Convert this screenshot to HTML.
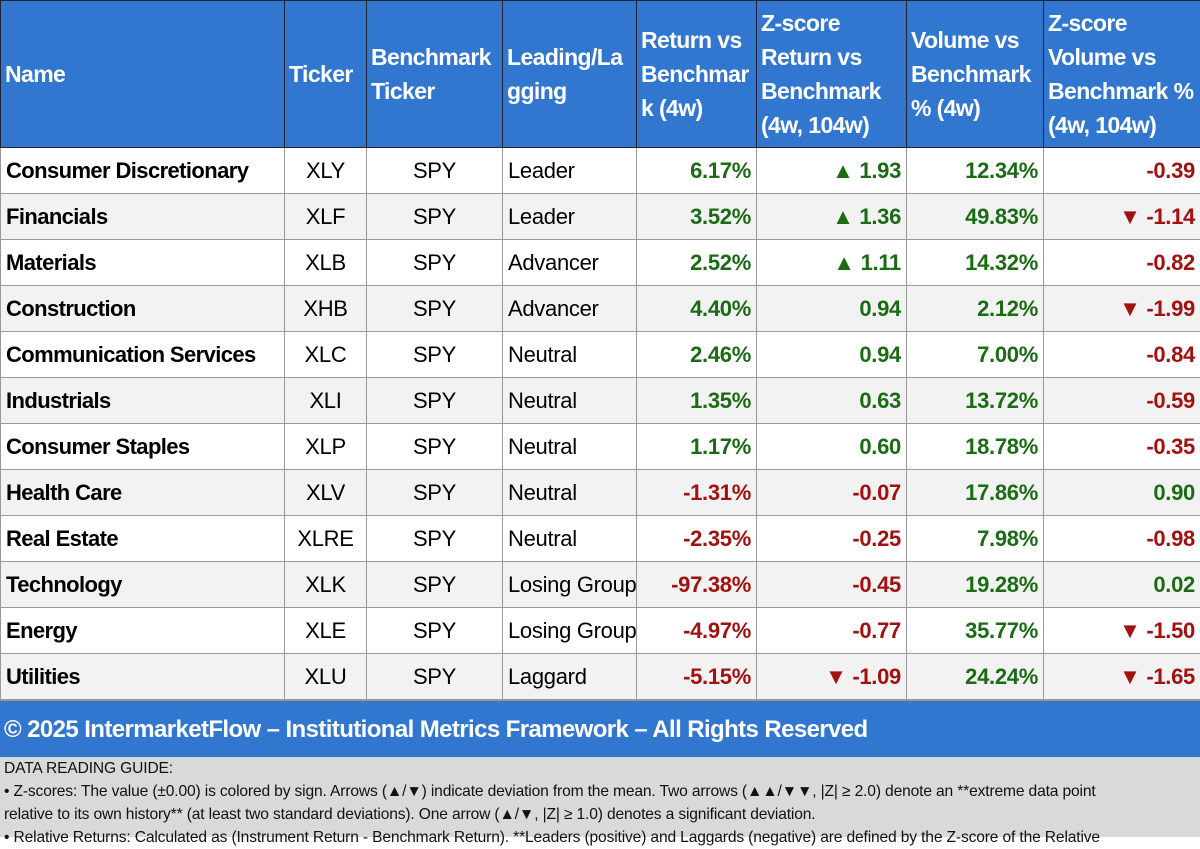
<!DOCTYPE html>
<html><head><meta charset="utf-8"><style>
body{margin:0;width:1200px;height:837px;overflow:hidden;background:#fff;font-family:"Liberation Sans",sans-serif;}
table{border-collapse:collapse;table-layout:fixed;width:1200px;position:absolute;left:0;top:0;}
th{background:#3277cf;color:#fff;font-weight:bold;font-size:23px;text-align:left;vertical-align:middle;padding:0 4px;line-height:34px;height:146px;border:1px solid #223;letter-spacing:-0.6px;overflow:hidden;}
td{height:45px;border:1px solid #999;font-size:22px;padding:0 5px;letter-spacing:-0.3px;white-space:nowrap;overflow:hidden;}
tr.alt td{background:#f2f2f2;}
td.n{font-weight:bold;letter-spacing:-0.6px;}
td.c{text-align:center;}
td.r{text-align:right;font-weight:bold;}
.g{color:#1a6b14;}.d{color:#a31010;}
#foot{position:absolute;left:0;top:700px;width:1200px;height:57px;background:#3277cf;color:#fff;font-weight:bold;font-size:24px;line-height:57px;padding-left:4px;box-sizing:border-box;letter-spacing:-0.6px;border-top:1px solid #999;}
#guide{position:absolute;left:0;top:757px;width:1200px;height:80px;background:#d9d9d9;font-size:15.6px;line-height:23px;padding:0 4px;box-sizing:border-box;letter-spacing:-0.15px;color:#111;}
</style></head><body>
<table>
<colgroup><col style="width:284px"><col style="width:82px"><col style="width:136px"><col style="width:134px"><col style="width:120px"><col style="width:150px"><col style="width:137px"><col style="width:157px"></colgroup>
<tr>
<th>Name</th>
<th>Ticker</th>
<th>Benchmark Ticker</th>
<th>Leading/La gging</th>
<th>Return vs Benchmar k (4w)</th>
<th>Z-score Return vs Benchmark (4w, 104w)</th>
<th>Volume vs Benchmark % (4w)</th>
<th>Z-score Volume vs Benchmark % (4w, 104w)</th>
</tr>
<tr><td class="n">Consumer Discretionary</td><td class="c">XLY</td><td class="c">SPY</td><td>Leader</td><td class="r g">6.17%</td><td class="r g">▲ 1.93</td><td class="r g">12.34%</td><td class="r d">-0.39</td></tr>
<tr class="alt"><td class="n">Financials</td><td class="c">XLF</td><td class="c">SPY</td><td>Leader</td><td class="r g">3.52%</td><td class="r g">▲ 1.36</td><td class="r g">49.83%</td><td class="r d">▼ -1.14</td></tr>
<tr><td class="n">Materials</td><td class="c">XLB</td><td class="c">SPY</td><td>Advancer</td><td class="r g">2.52%</td><td class="r g">▲ 1.11</td><td class="r g">14.32%</td><td class="r d">-0.82</td></tr>
<tr class="alt"><td class="n">Construction</td><td class="c">XHB</td><td class="c">SPY</td><td>Advancer</td><td class="r g">4.40%</td><td class="r g">0.94</td><td class="r g">2.12%</td><td class="r d">▼ -1.99</td></tr>
<tr><td class="n">Communication Services</td><td class="c">XLC</td><td class="c">SPY</td><td>Neutral</td><td class="r g">2.46%</td><td class="r g">0.94</td><td class="r g">7.00%</td><td class="r d">-0.84</td></tr>
<tr class="alt"><td class="n">Industrials</td><td class="c">XLI</td><td class="c">SPY</td><td>Neutral</td><td class="r g">1.35%</td><td class="r g">0.63</td><td class="r g">13.72%</td><td class="r d">-0.59</td></tr>
<tr><td class="n">Consumer Staples</td><td class="c">XLP</td><td class="c">SPY</td><td>Neutral</td><td class="r g">1.17%</td><td class="r g">0.60</td><td class="r g">18.78%</td><td class="r d">-0.35</td></tr>
<tr class="alt"><td class="n">Health Care</td><td class="c">XLV</td><td class="c">SPY</td><td>Neutral</td><td class="r d">-1.31%</td><td class="r d">-0.07</td><td class="r g">17.86%</td><td class="r g">0.90</td></tr>
<tr><td class="n">Real Estate</td><td class="c">XLRE</td><td class="c">SPY</td><td>Neutral</td><td class="r d">-2.35%</td><td class="r d">-0.25</td><td class="r g">7.98%</td><td class="r d">-0.98</td></tr>
<tr class="alt"><td class="n">Technology</td><td class="c">XLK</td><td class="c">SPY</td><td>Losing Group</td><td class="r d">-97.38%</td><td class="r d">-0.45</td><td class="r g">19.28%</td><td class="r g">0.02</td></tr>
<tr><td class="n">Energy</td><td class="c">XLE</td><td class="c">SPY</td><td>Losing Group</td><td class="r d">-4.97%</td><td class="r d">-0.77</td><td class="r g">35.77%</td><td class="r d">▼ -1.50</td></tr>
<tr class="alt"><td class="n">Utilities</td><td class="c">XLU</td><td class="c">SPY</td><td>Laggard</td><td class="r d">-5.15%</td><td class="r d">▼ -1.09</td><td class="r g">24.24%</td><td class="r d">▼ -1.65</td></tr>
</table>
<div id="foot">© 2025 IntermarketFlow – Institutional Metrics Framework – All Rights Reserved</div>
<div id="guide">DATA READING GUIDE:<br>• Z-scores: The value (±0.00) is colored by sign. Arrows (▲/▼) indicate deviation from the mean. Two arrows (▲▲/▼▼, |Z| ≥ 2.0) denote an **extreme data point<br>relative to its own history** (at least two standard deviations). One arrow (▲/▼, |Z| ≥ 1.0) denotes a significant deviation.<br>• Relative Returns: Calculated as (Instrument Return - Benchmark Return). **Leaders (positive) and Laggards (negative) are defined by the Z-score of the Relative</div>
</body></html>
